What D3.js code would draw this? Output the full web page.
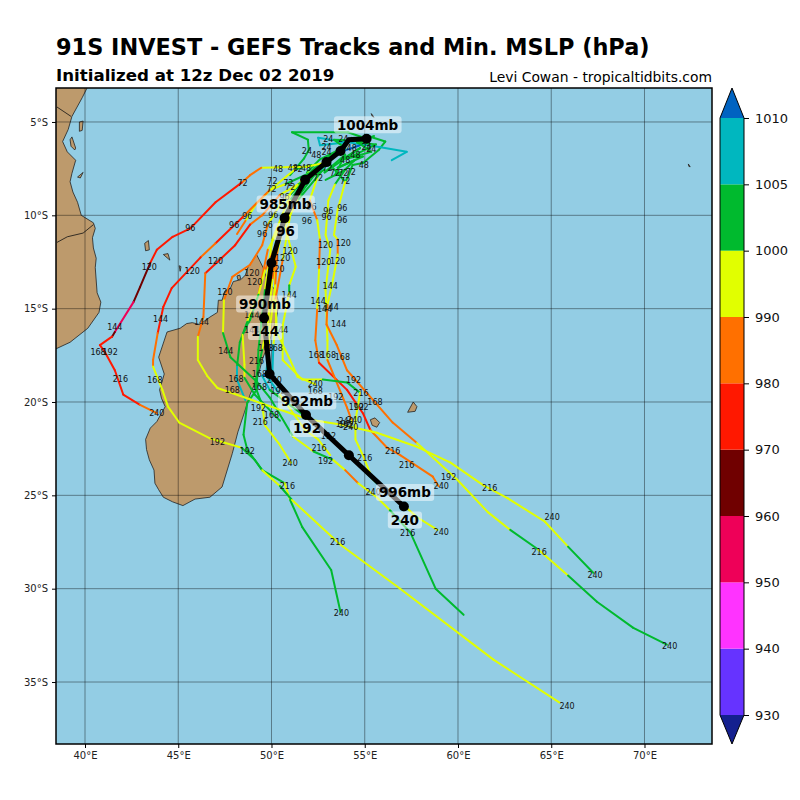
<!DOCTYPE html>
<html>
<head>
<meta charset="utf-8">
<script src="https://cdn.jsdelivr.net/npm/d3@7"></script>
<style>
	html, body { margin: 0; padding: 0; background: #fff; }
	text { font-family: "DejaVu Sans", sans-serif; }
</style>
</head>
<body>
<div id="chart"></div>
<script>
// pressure levels of the colour bar
const levels = [930, 940, 950, 960, 970, 980, 990, 1000, 1005, 1010];
const levelColors = ["#14208f", "#6633ff", "#ff33ff", "#ee0058", "#700000", "#ff1800", "#ff7000", "#e1ff00", "#00ba2e", "#00b7bf", "#0063c1"];

const lonTicks = [40, 45, 50, 55, 60, 65, 70];
const latTicks = [5, 10, 15, 20, 25, 30, 35];

// land, [lon E, lat S]
const madagascar = [[49.2,12.1],[49.55,12.8],[49.8,13.55],[50.2,14],[50.4,14.7],[50.25,15.6],[49.9,16.7],[49.5,17.75],[49.3,18.55],[48.85,19.6],[48.55,20.55],[48.2,21.6],[47.9,22.75],[47.35,24.55],[46.7,25.1],[45.9,25.2],[45.25,25.55],[44.7,25.35],[44.2,25.1],[43.95,24.7],[43.75,24.35],[43.7,23.65],[43.45,23.1],[43.3,22.55],[43.25,22],[43.5,21.4],[43.85,21.05],[44.3,20.25],[44.1,19.8],[44,19.35],[44.25,18.5],[43.95,17.6],[44.4,16.25],[45.1,16.05],[45.45,15.8],[45.75,15.75],[46.15,15.85],[46.7,15.45],[47.1,15.2],[47.15,14.55],[47.35,14.55],[47.5,14.05],[47.8,13.9],[47.95,13.55],[48.35,13.45],[48.6,13.2],[48.75,12.75],[49,12.4]];
const africa = [[40.1,3.2],[39.85,3.7],[39.3,4.7],[39.1,5.4],[38.8,6.05],[39.05,6.6],[39.5,7.05],[39.3,7.75],[39.2,8.2],[39.35,8.75],[39.6,9.3],[39.8,10],[40.45,10.4],[40.55,10.7],[40.4,11.2],[40.45,11.75],[40.6,12.3],[40.55,12.8],[40.65,14.15],[40.85,14.65],[40.75,15.2],[40.15,16.05],[39.2,16.8],[38.45,17.15],[37,17.5],[37,2.5],[40.3,2.5]];
const borderNorth = [[38.5,4.2],[39.25,4.7]];
const borderSouth = [[38.5,11.45],[39.05,11.15],[39.9,10.95],[40.45,10.5]];
const islands = [
	[[39.7,5],[39.9,4.95],[39.85,5.45],[39.7,5.5]],
	[[39.2,5.95],[39.3,5.8],[39.5,6.4],[39.45,6.5],[39.25,6.3]],
	[[39.6,7.95],[39.9,7.7],[39.75,8]],
	[[43.2,11.5],[43.4,11.35],[43.45,11.85],[43.25,11.9]],
	[[44.2,12.1],[44.45,12.05],[44.55,12.4]],
	[[45.05,12.7],[45.15,12.75],[45.1,13]],
	[[48.15,13.25],[48.3,13.2],[48.35,13.4],[48.2,13.45]],
	[[55.3,20.95],[55.55,20.85],[55.8,21.1],[55.65,21.35],[55.4,21.25]],
	[[57.3,20.55],[57.6,20],[57.8,20.25],[57.7,20.5]],
	[[55.35,4.55],[55.5,4.75],[55.4,4.7]],
	[[72.35,7.25],[72.45,7.4],[72.38,7.38]]
];

// ensemble members, [lon E, lat S, mslp]
const start1 = [[55.1,5.9,1002],[54.1,5.55,1002],[51.1,5.55,1002],[51.95,5.95,1002],[52,6.5,1002],[51.75,6.95,1002],[51,7.85,995]];
const start2 = [[55,5.7,1002],[56.1,6.05,1002],[55.75,6.5,1002],[54.9,7.2,1002],[54.35,7.3,1002],[54.1,7.95,1002],[53.95,8.2,995]];
const start3 = [[56.45,7.05,1007],[57.25,6.6,1007],[55.85,6.35,1007],[52.5,5.85,1007],[52.6,6.25,1007],[53.95,6.1,1007]];
const start4 = [[54.75,6.25,1012],[53.7,6.6,1012],[52.6,7.3,1012]];
const start5 = [[54.3,5.85,1002],[55.35,6.6,1002],[53.7,7.05,1002],[54.75,6.4,1002],[52.85,7.7,1002],[53.95,6.75,1002],[53.4,7.85,1002]];
const start6 = [[55.5,5.75,1002],[54.6,6.1,1002],[55.6,6.2,1002],[54.2,6.9,1002],[54.9,6.85,1002],[53.55,7.45,1002],[54.45,7.05,1002],[53.9,7.6,1002],[52.9,8.1,1002]];
const start7 = [[54.9,6,1002],[53.35,5.95,1002],[53.95,6.4,1002],[53.05,6.85,1002],[53.6,6.5,1002],[52.6,7,1002],[51.9,7.7,1002]];
const member01 = [[53.7,6.5,1002],[53,7.15,995],[51.9,7.4,995],[49.45,7.45,985],[48.85,7.85,985],[48.4,8.25,975],[47,9.3,975],[45.65,10.7,975],[44.7,11.15,975],[43.85,11.85,975],[43.5,12.55,965],[42.95,13.85,965],[42.6,14.65,955],[41.6,16.25,965],[41.45,16.5,975],[40.8,16.95,975],[41.05,17.3,975],[41.6,18.3,975],[42.05,19.6,975],[42.95,20.15,985],[43.85,20.6,985]];
const member02 = [[53,7.3,1002],[50.7,8.35,995],[49.9,8.65,985],[48.45,10.1,975],[47,11.5,985],[46.2,12.25,975],[44.65,13.9,975],[44.2,14.9,975],[43.9,16.3,985],[43.65,17.75,985],[43.65,18.1,995],[44.15,19.35,995],[44.45,20.25,995],[45.05,21.1,995],[46.7,21.95,995],[48.4,22.45,1002],[49.1,23.1,1002],[49.5,23.65,995],[50.45,24.5,1002],[51.1,25.25,995],[53.7,27.65,995],[56.9,30,995],[61.9,33.8,995],[65.45,36.1,995]];
const member03 = [[52.85,7.55,1002],[51.4,8.35,995],[50.45,8.9,985],[49.5,10,985],[48.85,10.5,975],[48.05,11.6,975],[47.1,12.5,975],[46.45,13.1,985],[46.35,15.45,985],[46.05,16.5,995],[46.05,17.75,995],[46.55,18.6,995],[47.1,19.25,995],[49.4,20.05,995],[52.05,20.95,995],[53.7,21.2,995],[55.65,21.65,995],[57.8,22.4,995],[59.6,23.25,995],[61.35,24.45,995],[62.65,25.15,995],[64.65,26.4,995],[65.9,27.75,1002],[67.25,29.15,1002]];
const member04 = [[53.15,7.3,1002],[53.95,8.2,995],[53.55,9.7,995],[53.35,11.05,995],[53.55,11.3,985],[53.55,12.1,995],[53.3,13.45,995],[53,14.8,985],[52.95,15.85,985],[53.5,16.95,985],[54.05,18.3,985],[56.5,21.1,985],[57.8,22.2,995],[59.95,24.15,995],[61.6,25.9,995],[62.8,26.85,1002],[64.3,27.9,995],[65.9,29.3,1002],[67.45,30.7,1002],[69.4,32.1,1002],[71.2,33,1002]];
const member05 = [[52.5,7.85,995],[52.05,9.2,985],[52.45,10.25,995],[52.6,11.3,985],[52.55,12.9,995],[52.45,15.05,985],[52.35,16.7,985],[52.55,17.9,975],[54.05,19.35,975],[54.9,20.6,975],[55.3,21.5,985],[56.2,22.45,985],[56.9,22.85,985],[58.65,24,985],[58.95,24.5,985]];
const member06 = [[53.95,7.55,1002],[53.4,8.35,995],[53.05,9.2,995],[52.9,11.05,995],[53.15,11.85,995],[52.9,14,995],[53,16.7,995],[53,17.75,985],[54.05,20.3,985],[54.3,21,995],[54.3,21.2,995]];
const member07 = [[52.65,7.7,1002],[51.4,9.2,995],[50.7,10.5,995],[51.3,12.75,995],[50.95,13.75,1002],[50.95,14.15,995],[50.6,15.9,995],[50.6,17.75,995],[51.65,18.8,995],[52.75,18.8,1002],[54.05,18.95,1002],[54.75,19.5,995],[54.5,21,995],[54.5,22,995],[54.9,22.85,995],[55.4,24.1,995],[57.85,26.2,995],[58.9,26.85,995]];
const member08 = [[52.7,7.3,1002],[51.5,8.9,995],[50.6,10.8,985],[49.65,12.95,995],[49.3,14.25,1002],[48.85,15.6,1002],[48.45,16.4,995],[48.55,18,995],[48.55,18.7,1002],[49.1,19.6,1002],[50.45,21,1002]];
const member09 = [[52,7.7,995],[50.45,9.45,995],[49.8,10.5,985],[49.5,11.6,985],[48.85,12.65,985],[47.9,13.3,985],[47.45,14.55,995],[47.4,16.3,1002],[47.8,17.6,1002],[49.2,18.9,1002],[49.9,19.75,1002],[51.15,21.85,995],[52.25,22.65,1002],[53.3,23.1,995],[53.95,23.65,985],[54.65,24.35,995],[55.65,25.1,995],[56.35,25.8,1002],[57.45,27,1002],[58.8,30,1002],[60.3,31.4,1002]];
const member10 = [[52.5,7.3,1002],[51,8.9,995],[50.05,11.3,995],[49.65,14,1002],[49.3,17.2,1002],[49.2,19.35,1002],[48.7,20.05,1002],[48.5,21.75,1002],[48.7,22.55,1002],[49.5,23.65,1002],[50.7,24.35,995],[51,25.25,1002],[51.65,26.7,1002],[53.2,29,1002],[53.7,31.25,1002]];
const member11 = [[52.2,7.55,1002],[51,9.2,995],[50.3,11.6,985],[50.05,13.45,995],[49.8,15.85,995],[49.5,17.2,1002],[49.1,19.1,1002],[49.5,20.15,995],[49.65,21.25,995],[50.45,22.3,995],[51.05,23.25,995]];
const member12 = [[51.55,8.65,995],[50.35,11.3,985],[50.2,13.75,995],[49.9,16.15,995],[49.8,17.75,1007],[49.7,18.55,1007],[50.45,19.6,995],[51.8,21.5,995],[52.5,22,995],[53.15,22.85,995]];
const member13 = [[53.15,7.2,1007],[51.85,8.1,1002],[50.7,10.35,995],[50.15,12.65,995],[50.25,15.6,995],[50.1,16.95,1007],[50.05,18.4,1012],[49.5,18.6,1007],[49.9,19.35,1002],[51.85,20.8,995],[54.15,22.85,1002],[55.65,24.35,1012],[57.1,25.6,1012]];
const member14 = [[52.3,7.45,1002],[51,9.7,995],[49.8,11.85,985],[49.3,14.25,995],[48.7,15.7,1002],[48.3,16.8,1002],[48.15,18.1,1007],[48.15,18.8,1007],[48.6,19.9,1002]];
const member15 = [[51.8,8.1,995],[51,10,995],[50.6,12.4,985],[50.2,14.55,995],[50.3,16.3,995],[51,17.75,995],[51.4,18.65,995],[52.35,19.05,995]];
const member16 = [[52.15,7.3,1002],[51.25,7.55,995],[50.1,8.5,995],[49.2,9.35,995],[48.6,10.3,985],[48.15,11,985]];
const members = [start1, start2, start3, start4, start5, start6, start7, member14, member13, member10, member08, member09, member12, member11, member05, member06, member15, member07, member16, member01, member02, member03, member04];

// forecast hour labels along the members, [lon E, lat S]
const label24 = [[53.05,5.9],[53.85,5.9],[51.9,6.55],[52.95,6.35],[52.95,6.6],[55.1,6.35],[55.35,6.45]];
const label48 = [[52.4,6.8],[50.35,7.5],[51.15,7.45],[51.85,7.45],[54.95,7.3],[53.95,7.05],[54.5,6.75],[54.3,6.4]];
const label72 = [[48.45,8.3],[50.05,8.15],[50,8.6],[50.9,8.25],[51,8.5],[51.4,7.5],[52.5,8],[53.4,7.75],[53.85,7.75],[53.95,8.15],[54.25,7.7],[53,7.45]];
const label96 = [[45.65,10.7],[48,10.55],[48.7,10.05],[49.5,11],[49.8,10.5],[50.1,10],[50.7,9],[51.9,10.3],[53.05,9.75],[52.95,10.1],[53.8,9.6],[53.8,10.25],[52.15,9.55]];
const label120 = [[43.45,12.8],[45.75,13],[47,12.45],[47.5,14.1],[48.95,13.1],[49.1,13.6],[50.6,12.3],[50.3,12.9],[51,11.9],[52.9,11.6],[53.85,11.5],[52.8,12.5],[53.55,12.45]];
const label144 = [[41.6,16],[44.05,15.55],[46.25,15.7],[47.55,17.3],[48.95,15.35],[48.95,16.15],[50.5,16.15],[50.95,14.3],[52.5,14.6],[53.15,13.8],[52.85,15.05],[53.2,14.9],[53.6,15.85]];
const label168 = [[40.7,17.35],[43.75,18.85],[48.1,18.75],[47.9,19.35],[49.35,18.5],[49.35,19.2],[50,20.7],[49.7,17.1],[50.2,17.1],[52.4,17.5],[53.05,17.5],[53.8,17.6],[55.55,20],[52.35,19.4]];
const label192 = [[41.35,17.35],[47.1,22.15],[48.7,22.65],[49.3,20.35],[53.45,19.75],[54.4,18.85],[54.8,20.3],[54.55,20.25],[50.35,19.4],[52.9,23.15],[59.5,24.05],[54,21.25],[53.05,21.85],[53.85,21.2]];
const label216 = [[41.9,18.8],[49.4,21.1],[49.2,17.8],[52.55,22.45],[55,23],[56.5,22.65],[54.8,19.5],[57.25,23.4],[50.85,24.5],[53.55,27.5],[57.3,27.05],[61.7,24.6],[64.35,28.05]];
const label240 = [[43.85,20.6],[51,23.25],[52.35,19.05],[50.15,18.85],[54,21],[54.45,20.95],[54.25,21.35],[59.1,24.5],[65.05,26.15],[67.35,29.25],[71.35,33.1],[65.85,36.3],[53.75,31.3],[59.1,26.95],[55.45,24.85]];
const hourLabels = [[24, label24], [48, label48], [72, label72], [96, label96], [120, label120], [144, label144], [168, label168], [192, label192], [216, label216], [240, label240]];

// ensemble mean, dots every 24h
const meanHours = [0, 24, 48, 72, 96, 120, 144, 168, 192, 216, 240];
const meanLon = [55.1, 53.7, 52.95, 51.8, 50.7, 50.0, 49.6, 49.9, 51.85, 54.15, 57.1];
const meanLat = [5.9, 6.55, 7.15, 8.1, 10.15, 12.55, 15.5, 18.5, 20.7, 22.85, 25.6];
const meanLabelHours = [0, 96, 144, 192, 240];
const meanLabelMslp = [1004, 985, 990, 992, 996];

const width = 800, height = 800;
const margin = {top: 88, right: 88, bottom: 56, left: 56};
const plotRight = width - margin.right, plotBottom = height - margin.bottom;

const x = d3.scaleLinear().domain([38.445, 73.62]).range([margin.left, plotRight]);
const y = d3.scaleLinear().domain([3.18, 38.32]).range([margin.top, plotBottom]);
const color = d3.scaleThreshold().domain(levels).range(levelColors);

const svg = d3.select("#chart").append("svg")
	.attr("width", width)
	.attr("height", height);

svg.append("defs").append("clipPath")
	.attr("id", "plot-clip")
  .append("rect")
	.attr("x", margin.left)
	.attr("y", margin.top)
	.attr("width", plotRight - margin.left)
	.attr("height", plotBottom - margin.top);

const map = svg.append("g").attr("clip-path", "url(#plot-clip)");

map.append("rect")
	.attr("x", margin.left)
	.attr("y", margin.top)
	.attr("width", plotRight - margin.left)
	.attr("height", plotBottom - margin.top)
	.attr("fill", "#93cde4");

const lonLat = d3.line().x(d => x(d[0])).y(d => y(d[1]));

// land
map.selectAll(".land")
	.data([madagascar, africa].concat(islands))
  .enter().append("path")
	.attr("class", "land")
	.attr("d", d => lonLat(d) + "Z")
	.attr("fill", "#bd9a6c")
	.attr("stroke", "#222")
	.attr("stroke-width", 0.8);

map.selectAll(".border")
	.data([borderNorth, borderSouth])
  .enter().append("path")
	.attr("class", "border")
	.attr("d", lonLat)
	.attr("fill", "none")
	.attr("stroke", "#111")
	.attr("stroke-width", 0.8);

// grid lines
map.selectAll(".grid-lon")
	.data(lonTicks)
  .enter().append("line")
	.attr("class", "grid-lon")
	.attr("x1", d => x(d)).attr("x2", d => x(d))
	.attr("y1", margin.top).attr("y2", plotBottom)
	.attr("stroke", "#000").attr("stroke-opacity", 0.4);

map.selectAll(".grid-lat")
	.data(latTicks)
  .enter().append("line")
	.attr("class", "grid-lat")
	.attr("y1", d => y(d)).attr("y2", d => y(d))
	.attr("x1", margin.left).attr("x2", plotRight)
	.attr("stroke", "#000").attr("stroke-opacity", 0.4);

// member tracks, one piece per segment so each takes the colour of its mslp
members.forEach(function(track) {
	map.append("g").selectAll("line")
		.data(d3.pairs(track))
	  .enter().append("line")
		.attr("x1", d => x(d[0][0]))
		.attr("y1", d => y(d[0][1]))
		.attr("x2", d => x(d[1][0]))
		.attr("y2", d => y(d[1][1]))
		.attr("stroke", d => color(d[0][2]))
		.attr("stroke-width", 2)
		.attr("stroke-linecap", "round");
});

// forecast hours
hourLabels.forEach(function(group) {
	map.append("g").selectAll("text")
		.data(group[1])
	  .enter().append("text")
		.attr("x", d => x(d[0]))
		.attr("y", d => y(d[1]))
		.attr("dy", "0.36em")
		.attr("text-anchor", "middle")
		.attr("font-size", 8)
		.attr("fill", "#111")
		.text(group[0]);
});

// ensemble mean
const meanPoints = meanHours.map((h, i) => [meanLon[i], meanLat[i]]);
const meanPath = [meanPoints[0], [54.15, 5.95]].concat(meanPoints.slice(1));

map.append("path")
	.attr("d", lonLat(meanPath))
	.attr("fill", "none")
	.attr("stroke", "#000")
	.attr("stroke-width", 5);

map.selectAll(".mean-dot")
	.data(meanPoints)
  .enter().append("circle")
	.attr("class", "mean-dot")
	.attr("cx", d => x(d[0]))
	.attr("cy", d => y(d[1]))
	.attr("r", 5)
	.attr("fill", "#000");

function boxedLabel(px, py, label, size) {
	let g = map.append("g");
	let box = g.append("rect")
		.attr("fill", "#fff")
		.attr("fill-opacity", 0.5)
		.attr("rx", 3);
	let t = g.append("text")
		.attr("x", px)
		.attr("y", py)
		.attr("dy", "0.36em")
		.attr("text-anchor", "middle")
		.attr("font-size", size)
		.attr("font-weight", "bold")
		.attr("fill", "#000")
		.text(label);
	let b = t.node().getBBox();
	box.attr("x", b.x - 3)
		.attr("y", py - 8.5)
		.attr("width", b.width + 6)
		.attr("height", 17);
}

meanLabelHours.forEach(function(h, i) {
	let k = meanHours.indexOf(h);
	boxedLabel(x(meanLon[k]) + 1, y(meanLat[k]) - 14, meanLabelMslp[i] + "mb", 13.5);
	if (h > 0) boxedLabel(x(meanLon[k]) + 1, y(meanLat[k]) + 13.5, h, 13.5);
});

// axes
const xAxis = d3.axisBottom(x)
	.tickValues(lonTicks)
	.tickSize(4)
	.tickPadding(4)
	.tickFormat(d => d + "\u00b0E");

const yAxis = d3.axisLeft(y)
	.tickValues(latTicks)
	.tickSize(4)
	.tickPadding(4)
	.tickFormat(d => d + "\u00b0S");

svg.append("g")
	.attr("transform", "translate(0," + plotBottom + ")")
	.call(xAxis)
	.call(g => g.select(".domain").remove())
	.selectAll("text").attr("font-size", 10).attr("font-family", "DejaVu Sans").attr("fill", "#222");

svg.append("g")
	.attr("transform", "translate(" + margin.left + ",0)")
	.call(yAxis)
	.call(g => g.select(".domain").remove())
	.selectAll("text").attr("font-size", 10).attr("font-family", "DejaVu Sans").attr("fill", "#222");

svg.append("rect")
	.attr("x", margin.left)
	.attr("y", margin.top)
	.attr("width", plotRight - margin.left)
	.attr("height", plotBottom - margin.top)
	.attr("fill", "none")
	.attr("stroke", "#000")
	.attr("stroke-width", 1.5);

// colour bar
const barLeft = 720, barRight = 744, barTop = 118, barBottom = 715, barTip = 30;
const barY = d3.scalePoint().domain(levels).range([barBottom, barTop]);
const barMid = (barLeft + barRight) / 2;

svg.append("g").selectAll("rect")
	.data(d3.pairs(levels))
  .enter().append("rect")
	.attr("x", barLeft)
	.attr("width", barRight - barLeft)
	.attr("y", d => barY(d[1]))
	.attr("height", d => barY(d[0]) - barY(d[1]))
	.attr("fill", d => color(d[0]));

svg.append("path")
	.attr("d", d3.line()([[barLeft, barBottom], [barMid, barBottom + barTip - 1], [barRight, barBottom]]) + "Z")
	.attr("fill", levelColors[0]);

svg.append("path")
	.attr("d", d3.line()([[barLeft, barTop], [barMid, barTop - barTip], [barRight, barTop]]) + "Z")
	.attr("fill", levelColors[levelColors.length - 1]);

svg.append("path")
	.attr("d", d3.line()([[barLeft, barTop], [barMid, barTop - barTip], [barRight, barTop], [barRight, barBottom], [barMid, barBottom + barTip - 1], [barLeft, barBottom]]) + "Z")
	.attr("fill", "none")
	.attr("stroke", "#000")
	.attr("stroke-width", 1);

svg.append("g")
	.attr("transform", "translate(" + barRight + ",0)")
	.call(d3.axisRight(barY).tickSize(5).tickPadding(6))
	.call(g => g.select(".domain").remove())
	.selectAll("text").attr("font-size", 13).attr("font-family", "DejaVu Sans").attr("fill", "#111");

// titles
svg.append("text")
	.attr("x", 56).attr("y", 55)
	.attr("font-size", 22.4)
	.attr("font-weight", "bold")
	.text("91S INVEST - GEFS Tracks and Min. MSLP (hPa)");

svg.append("text")
	.attr("x", 56).attr("y", 81)
	.attr("font-size", 16.65)
	.attr("font-weight", "bold")
	.text("Initialized at 12z Dec 02 2019");

svg.append("text")
	.attr("x", 712).attr("y", 82)
	.attr("text-anchor", "end")
	.attr("font-size", 13.9)
	.text("Levi Cowan - tropicaltidbits.com");
</script>
</body>
</html>
